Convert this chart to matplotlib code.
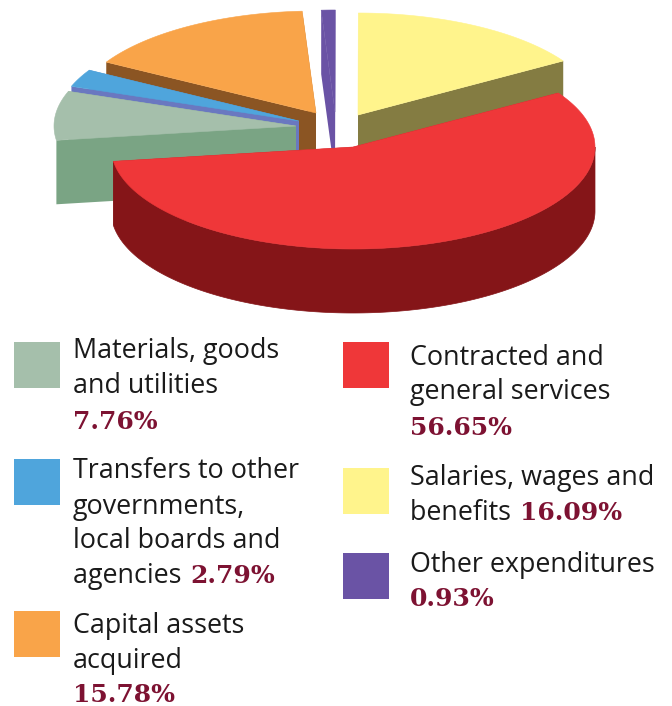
import numpy as np
import matplotlib
matplotlib.use("Agg")
import matplotlib.pyplot as plt
from matplotlib.patches import Polygon, Rectangle

# ======================
# data
# ======================
categories = ["Contracted and general services", "Materials, goods and utilities",
              "Transfers to other governments, local boards and agencies",
              "Capital assets acquired", "Other expenditures", "Salaries, wages and benefits"]
shares = [56.65, 7.76, 2.79, 15.78, 0.93, 16.09]
share_labels = [f"{v:.2f}%" for v in shares]

top_colors = ["#ef3739", "#a5bfab", "#4fa5dc", "#f9a449", "#6a53a5", "#fff48c"]
side_colors = ["#851518", "#7aa484", "#6a78c0", "#8b5523", "#6a53a5", "#847c42"]

# ======================
# layout (pixels of the 672x706 canvas)
# ======================
RX, RY = 242, 102      # ellipse radii of the pie
DEPTH = 64             # thickness
START_ANGLE = 32       # red slice starts here, going clockwise
# where the tip of each slice ends up after the explode
apex = [(353, 147), (296, 126), (299, 121), (316, 113), (335, 112), (358, 115)]
# back to front
draw_order = [3, 4, 5, 2, 1, 0]

# swatch top-left corner, then list of text lines (x, baseline, text pieces)
SANS = "Open Sans"
SERIF = "DejaVu Serif"
TEXT_SIZE = 19.4
PCT_SIZE = 18
legend_rows = [
    (1, (14, 342), 73, [(358, "Materials, goods", False), (393, "and utilities", False), (429, "", True)]),
    (2, (14, 459), 73, [(478, "Transfers to other", False), (514, "governments,", False),
                        (548, "local boards and", False), (583, "agencies ", True)]),
    (3, (14, 611), 73, [(633, "Capital assets", False), (668, "acquired", False), (702, "", True)]),
    (0, (343, 342), 410, [(365, "Contracted and", False), (399, "general services", False), (435, "", True)]),
    (5, (343, 468), 410, [(485, "Salaries, wages and", False), (520, "benefits ", True)]),
    (4, (343, 553), 410, [(572, "Other expenditures", False), (606, "", True)]),
]


def ellipse_points(tip, a0, a1):
    t = np.radians(np.linspace(a0, a1, max(2, int(abs(a1 - a0) * 2))))
    return np.column_stack([tip[0] + RX * np.cos(t), tip[1] - RY * np.sin(t)])


def draw_slice(ax, i, a0, a1):
    """a0 > a1, angles in degrees, clockwise slice"""
    tip = np.array(apex[i], dtype=float)
    down = np.array([0, DEPTH])
    rim = ellipse_points(tip, a0, a1)

    # cut faces
    for a in (a0, a1):
        edge = ellipse_points(tip, a, a)[0]
        ax.add_patch(Polygon([tip, edge, edge + down, tip + down], closed=True,
                             fc=side_colors[i], ec="none"))
    # outer wall, only for a slice that reaches the front of the pie
    if a0 > -90:
        front = ellipse_points(tip, min(a0, 0), max(a1, -180))
        ax.add_patch(Polygon(np.vstack([front, (front + down)[::-1]]), closed=True,
                             fc=side_colors[i], ec=side_colors[i], lw=0.5))
    ax.add_patch(Polygon(np.vstack([tip, rim]), closed=True,
                         fc=top_colors[i], ec=top_colors[i], lw=0.4))


fig = plt.figure(figsize=(6.72, 7.06), dpi=100)
ax = fig.add_axes([0, 0, 1, 1])
ax.set_xlim(0, 672)
ax.set_ylim(706, 0)
ax.axis("off")

# angles from the shares
sweeps = np.array(shares) / sum(shares) * 360
ends = START_ANGLE - np.cumsum(sweeps)
starts = ends + sweeps

for i in draw_order:
    draw_slice(ax, i, starts[i], ends[i])

# ======================
# legend
# ======================
for idx, (x0, y0), tx, lines in legend_rows:
    ax.add_patch(Rectangle((x0, y0), 46, 46, fc=top_colors[idx], ec="none"))
    for base, txt, with_pct in lines:
        end_x = tx
        if txt:
            t = ax.text(tx, base, txt, family=SANS, fontsize=TEXT_SIZE, color="#1a1a1a",
                        va="baseline", ha="left")
            bb = t.get_window_extent(fig.canvas.get_renderer())
            end_x = tx + bb.width + 2
        if with_pct:
            ax.text(end_x, base, share_labels[idx], family=SERIF, weight="bold", fontsize=PCT_SIZE,
                    color="#7d1232", va="baseline", ha="left")

fig.savefig("out.png", dpi=100)
